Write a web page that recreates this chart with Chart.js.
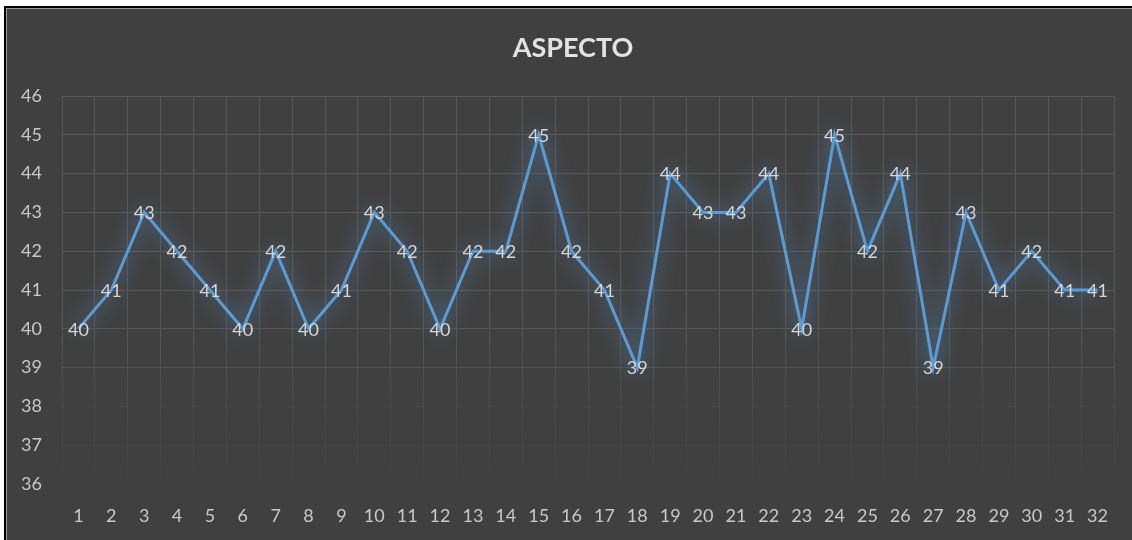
<!DOCTYPE html>
<html>
<head>
<meta charset="utf-8">
<script src="https://cdn.jsdelivr.net/npm/chart.js@4/dist/chart.umd.min.js"></script>
<style>
  html, body { margin: 0; padding: 0; background: #ffffff; width: 1132px; height: 540px; overflow: hidden; }
  #frame { position: absolute; left: 4px; top: 6px; width: 1200px; height: 600px;
           border-left: 2px solid #000; border-top: 2px solid #000; background: #404040;
           box-shadow: inset 1px 1px 0 #9a9a9a; }
  #wrap { position: absolute; left: 0; top: 0; width: 1132px; height: 540px; }
  #c { display: block; width: 1132px; height: 540px; }
</style>
</head>
<body>
<div id="frame"></div>
<div id="wrap"><canvas id="c" width="1132" height="540"></canvas></div>
<script>
const titleText = 'ASPECTO';
const categories = ['1','2','3','4','5','6','7','8','9','10','11','12','13','14','15','16','17','18','19','20','21','22','23','24','25','26','27','28','29','30','31','32'];
const values = [40,41,43,42,41,40,42,40,41,43,42,40,42,42,45,42,41,39,44,43,43,44,40,45,42,44,39,43,41,42,41,41];
const yMin = 36, yMax = 46, yStep = 1;

const FONT = 'Lato, "Open Sans", sans-serif';
const GRID_RGB = '88,88,88';

function gridAlpha(frac) { // frac 0 = top, 1 = bottom
  if (frac <= 0.55) return 1;
  return Math.max(0, 1 - (frac - 0.55) / 0.45);
}

// Title drawn centred over the (wider, cropped) Excel chart area
const titlePlugin = {
  id: 'offsetTitle',
  afterDraw(chart) {
    const ctx = chart.ctx;
    ctx.save();
    ctx.font = 'bold 27px ' + FONT;
    ctx.fillStyle = '#e3e3e3';
    ctx.textAlign = 'center';
    ctx.textBaseline = 'middle';
    ctx.fillText(titleText, 573, 48);
    ctx.restore();
  }
};

const glowPlugin = {
  id: 'glow',
  beforeDatasetDraw(chart) {
    const ctx = chart.ctx;
    ctx.save();
    ctx.shadowColor = 'rgba(91,155,213,1)';
    ctx.shadowBlur = 20;
  },
  afterDatasetDraw(chart) { chart.ctx.restore(); }
};

const labelPlugin = {
  id: 'valueLabels',
  afterDatasetsDraw(chart) {
    const ctx = chart.ctx;
    const meta = chart.getDatasetMeta(0);
    ctx.save();
    ctx.font = '18px ' + FONT;
    ctx.fillStyle = '#d6d6d6';
    ctx.textAlign = 'center';
    ctx.textBaseline = 'middle';
    meta.data.forEach((pt, i) => {
      ctx.fillText(String(values[i]), pt.x, pt.y + 1);
    });
    ctx.restore();
  }
};

new Chart(document.getElementById('c'), {
  type: 'line',
  data: {
    labels: categories,
    datasets: [{
      data: values,
      borderColor: '#5b9bd5',
      borderWidth: 3,
      pointRadius: 0,
      pointHoverRadius: 0,
      tension: 0,
      fill: false
    }]
  },
  options: {
    responsive: false,
    maintainAspectRatio: false,
    animation: false,
    devicePixelRatio: 1,
    layout: { padding: { left: 0, right: 18, top: 96, bottom: 0 } },
    plugins: {
      legend: { display: false },
      tooltip: { enabled: false },
      title: { display: false }
    },
    scales: {
      x: {
        offset: true,
        border: { display: false },
        grid: {
          offset: true,
          drawTicks: false,
          lineWidth: 1,
          color: (c) => {
            const ch = c.chart, a = ch.chartArea;
            if (!a) return 'rgba(' + GRID_RGB + ',1)';
            const g = ch.ctx.createLinearGradient(0, a.top, 0, a.bottom);
            g.addColorStop(0, 'rgba(' + GRID_RGB + ',1)');
            g.addColorStop(0.55, 'rgba(' + GRID_RGB + ',1)');
            g.addColorStop(1, 'rgba(' + GRID_RGB + ',0.05)');
            return g;
          }
        },
        ticks: {
          color: '#c8c8c8',
          padding: 21,
          maxRotation: 0,
          autoSkip: false,
          font: { family: FONT, size: 18 }
        },
        afterFit(scale) { scale.height = 56; }
      },
      y: {
        min: yMin,
        max: yMax,
        border: { display: false },
        grid: {
          drawTicks: false,
          lineWidth: 1,
          color: (c) => {
            const v = c.tick ? c.tick.value : yMax;
            const frac = (yMax - v) / (yMax - yMin);
            return 'rgba(' + GRID_RGB + ',' + gridAlpha(frac).toFixed(3) + ')';
          }
        },
        ticks: {
          stepSize: yStep,
          color: '#c8c8c8',
          padding: 20,
          font: { family: FONT, size: 18 }
        },
        afterFit(scale) { scale.width = 62; }
      }
    }
  },
  plugins: [glowPlugin, labelPlugin, titlePlugin]
});
</script>
</body>
</html>
